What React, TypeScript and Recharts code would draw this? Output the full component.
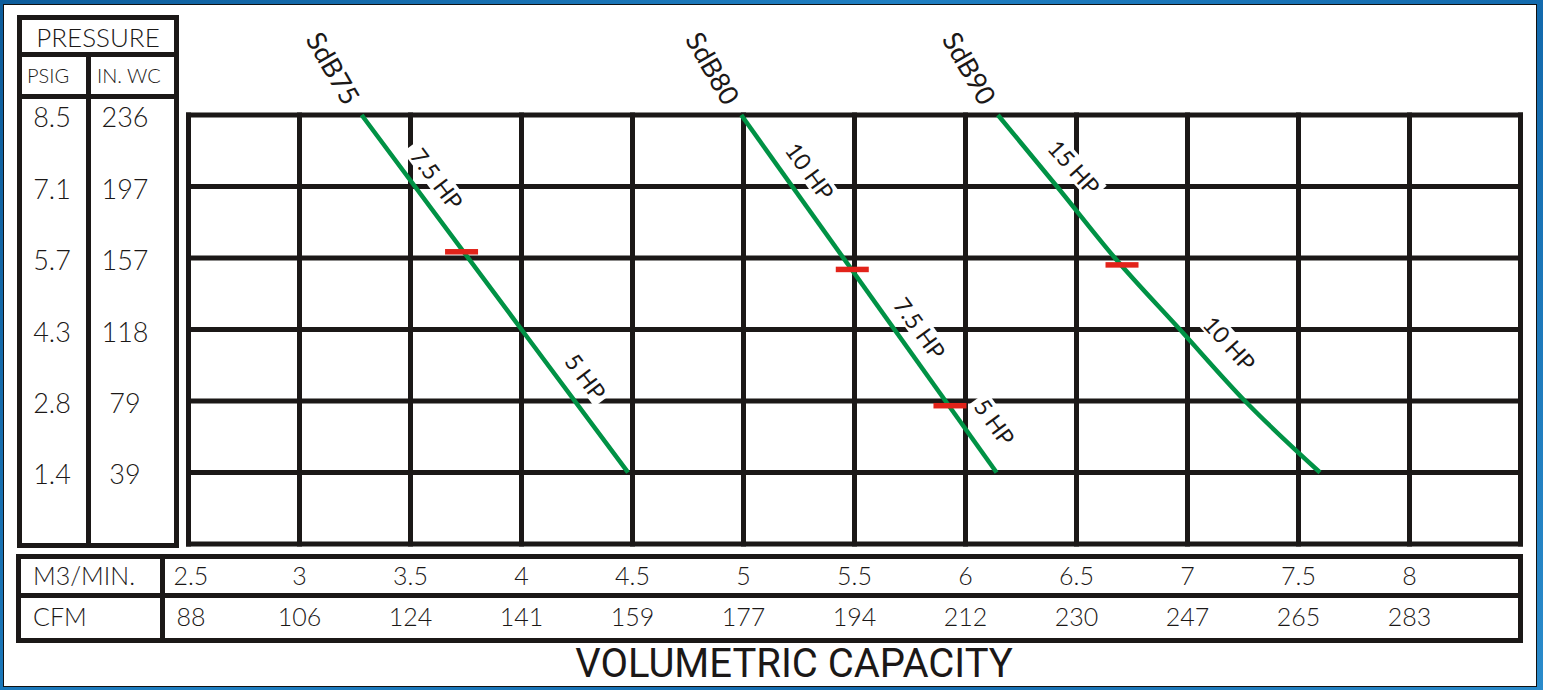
import React from "react";
import {
  ComposedChart,
  Line,
  Scatter,
  XAxis,
  YAxis,
  CartesianGrid,
  LabelList,
} from "recharts";

// --- axis ticks / table labels ---
const M3_TICKS = [2.5, 3, 3.5, 4, 4.5, 5, 5.5, 6, 6.5, 7, 7.5, 8, 8.5];
const M3_LABELS = ["2.5", "3", "3.5", "4", "4.5", "5", "5.5", "6", "6.5", "7", "7.5", "8", ""];
const CFM_LABELS = ["88", "106", "124", "141", "159", "177", "194", "212", "230", "247", "265", "283", ""];

const PSIG_TICKS = [8.5, 7.083, 5.667, 4.25, 2.833, 1.417, 0];
const PSIG_LABELS = ["8.5", "7.1", "5.7", "4.3", "2.8", "1.4", ""];
const INWC_LABELS = ["236", "197", "157", "118", "79", "39", ""];

// --- blower curves (x = m3/min, y = psig) ---
const SDB75 = [
  { x: 3.28, y: 8.5 },
  { x: 4.0, y: 4.25 },
  { x: 4.48, y: 1.417 },
];
const SDB80 = [
  { x: 4.99, y: 8.5 },
  { x: 6.14, y: 1.417 },
];
const SDB90 = [
  { x: 6.146, y: 8.5 },
  { x: 6.412, y: 7.083 },
  { x: 6.673, y: 5.667 },
  { x: 6.966, y: 4.25 },
  { x: 7.259, y: 2.833 },
  { x: 7.597, y: 1.417 },
];

// motor change points (red marks)
const MARKS = [
  { x: 3.73, y: 5.79 },
  { x: 5.49, y: 5.44 },
  { x: 5.93, y: 2.74 },
  { x: 6.705, y: 5.53 },
];

// motor size labels along the curves
const HP_LABELS = [
  { x: 3.62, y: 7.24, text: "7.5 HP", series: "SdB75" },
  { x: 4.29, y: 3.32, text: "5 HP", series: "SdB75" },
  { x: 5.3, y: 7.39, text: "10 HP", series: "SdB80" },
  { x: 5.795, y: 4.28, text: "7.5 HP", series: "SdB80" },
  { x: 6.132, y: 2.42, text: "5 HP", series: "SdB80" },
  { x: 6.49, y: 7.47, text: "15 HP", series: "SdB90" },
  { x: 7.19, y: 3.98, text: "10 HP", series: "SdB90" },
];

const LABEL_ANGLE: Record<string, number> = { SdB75: 53, SdB80: 54, SdB90: 48 };

const INK = "#1b1817";
const GREEN = "#009245";
const RED = "#e2231a";
const FONT = "Lato, 'Noto Sans', sans-serif";
const LIGHT = 300;

function PressureTick(props: any) {
  const { x, y, payload } = props;
  const i = PSIG_TICKS.indexOf(payload.value);
  if (i < 0 || !PSIG_LABELS[i]) return <g />;
  return (
    <g fontFamily={FONT} fontWeight={LIGHT} fontSize={27} fill={INK}>
      <text x={x - 136.5} y={y + 12} textAnchor="middle">
        {PSIG_LABELS[i]}
      </text>
      <text x={x - 63.5} y={y + 12} textAnchor="middle">
        {INWC_LABELS[i]}
      </text>
    </g>
  );
}

function FlowTick(props: any) {
  const { x, y, payload } = props;
  const i = M3_TICKS.indexOf(payload.value);
  if (i < 0 || !M3_LABELS[i]) return <g />;
  const first = i === 0;
  const tx = first ? x - 15 : x;
  const anchor = first ? "start" : "middle";
  return (
    <g fontFamily={FONT} fontWeight={LIGHT} fontSize={25} fill={INK}>
      <text x={tx} y={y + 41} textAnchor={anchor}>
        {M3_LABELS[i]}
      </text>
      <text x={first ? tx + 3 : tx} y={y + 82} textAnchor={anchor}>
        {CFM_LABELS[i]}
      </text>
    </g>
  );
}

function HpLabel(props: any) {
  const { cx, cy, payload } = props;
  if (cx == null || cy == null) return <g />;
  const fs = 23;
  const w = payload.text.length * 0.55 * fs + 8;
  const h = fs * 1.0;
  const angle = LABEL_ANGLE[payload.series] ?? 50;
  return (
    <g transform={`translate(${cx},${cy}) rotate(${angle})`}>
      <rect x={-w / 2} y={-h / 2} width={w} height={h} fill="#fff" />
      <text
        x={0}
        y={0}
        textAnchor="middle"
        dominantBaseline="central"
        fontFamily={FONT}
        fontSize={fs}
        fill={INK}
      >
        {payload.text}
      </text>
    </g>
  );
}

function RedMark(props: any) {
  const { cx, cy } = props;
  if (cx == null || cy == null) return <g />;
  return <rect x={cx - 16.5} y={cy - 2.75} width={33} height={5.5} fill={RED} />;
}

function seriesName(name: string) {
  return (p: any) => {
    if (p.index !== 0 || p.x == null) return null;
    return (
      <text
        transform={`translate(${p.x - 28},${p.y - 47}) rotate(60)`}
        textAnchor="middle"
        dominantBaseline="central"
        fontFamily={FONT}
        fontSize={27}
        fill={INK}
      >
        {name}
      </text>
    );
  };
}

const SERIES = [
  { name: "SdB75", data: SDB75 },
  { name: "SdB80", data: SDB80 },
  { name: "SdB90", data: SDB90 },
];

export default function App() {
  return (
    <div
      style={{
        position: "absolute",
        left: 0,
        top: 0,
        width: 1543,
        height: 690,
        overflow: "hidden",
        background: "linear-gradient(135deg, #0d5d9c 0%, #1f7fc2 40%, #136aad 70%, #2a8bcb 100%)",
      }}
    >
      <svg
        width={1543}
        height={690}
        style={{ position: "absolute", left: 0, top: 0 }}
      >
        <rect x={3.5} y={4.5} width={1533} height={682} fill="#fff" stroke="#111" strokeWidth={1} />

        {/* pressure table */}
        <g stroke={INK} strokeWidth={5} fill="none">
          <rect x={19.5} y={17.5} width={157} height={528} />
          <line x1={17} x2={179} y1={54.5} y2={54.5} />
          <line x1={17} x2={179} y1={96.5} y2={96.5} />
          <line x1={88.5} x2={88.5} y1={54.5} y2={548} />
        </g>
        <g fontFamily={FONT} fontWeight={LIGHT} fill={INK}>
          <text x={98} y={47} fontSize={26} textAnchor="middle">
            PRESSURE
          </text>
          <text x={27} y={83} fontSize={20}>
            PSIG
          </text>
          <text x={97} y={83} fontSize={20}>
            IN. WC
          </text>
        </g>

        {/* flow table */}
        <g stroke={INK} strokeWidth={5} fill="none">
          <rect x={18.5} y={556.5} width={1502} height={84} />
          <line x1={16} x2={1523} y1={595.5} y2={595.5} />
          <line x1={162.5} x2={162.5} y1={554} y2={643} />
        </g>
        <g fontFamily={FONT} fontWeight={LIGHT} fill={INK} fontSize={25}>
          <text x={33} y={585}>
            M3/MIN.
          </text>
          <text x={33} y={626}>
            CFM
          </text>
        </g>
        <text
          x={794}
          y={677}
          textAnchor="middle"
          fontFamily="Roboto, 'Liberation Sans', sans-serif"
          fontSize={40}
          fill={INK}
        >
          VOLUMETRIC CAPACITY
        </text>
      </svg>

      <div style={{ position: "absolute", left: 0, top: 0 }}>
        <ComposedChart
          width={1543}
          height={690}
          margin={{ top: 115, right: 22.5, left: 38.5, bottom: 46 }}
        >
          <CartesianGrid
            stroke={INK}
            strokeWidth={5}
            strokeLinecap="square"
            fill="none"
          />
          <XAxis
            type="number"
            dataKey="x"
            domain={[2.5, 8.5]}
            ticks={M3_TICKS}
            interval={0}
            height={100}
            axisLine={false}
            tickLine={false}
            tickSize={0}
            tickMargin={0}
            tick={(p: any) => <FlowTick {...p} />}
          />
          <YAxis
            type="number"
            dataKey="y"
            domain={[0, 8.5]}
            ticks={PSIG_TICKS}
            interval={0}
            width={150}
            axisLine={false}
            tickLine={false}
            tickSize={0}
            tickMargin={0}
            tick={(p: any) => <PressureTick {...p} />}
          />
          <Scatter
            data={HP_LABELS}
            shape={(p: any) => <HpLabel {...p} />}
            isAnimationActive={false}
          />
          <Scatter
            data={MARKS}
            shape={(p: any) => <RedMark {...p} />}
            isAnimationActive={false}
          />
          {SERIES.map((s) => (
            <Line
              key={s.name}
              data={s.data}
              dataKey="y"
              type="monotone"
              stroke={GREEN}
              strokeWidth={4.5}
              dot={false}
              activeDot={false}
              isAnimationActive={false}
            >
              <LabelList dataKey="y" content={seriesName(s.name)} />
            </Line>
          ))}
        </ComposedChart>
      </div>
    </div>
  );
}
